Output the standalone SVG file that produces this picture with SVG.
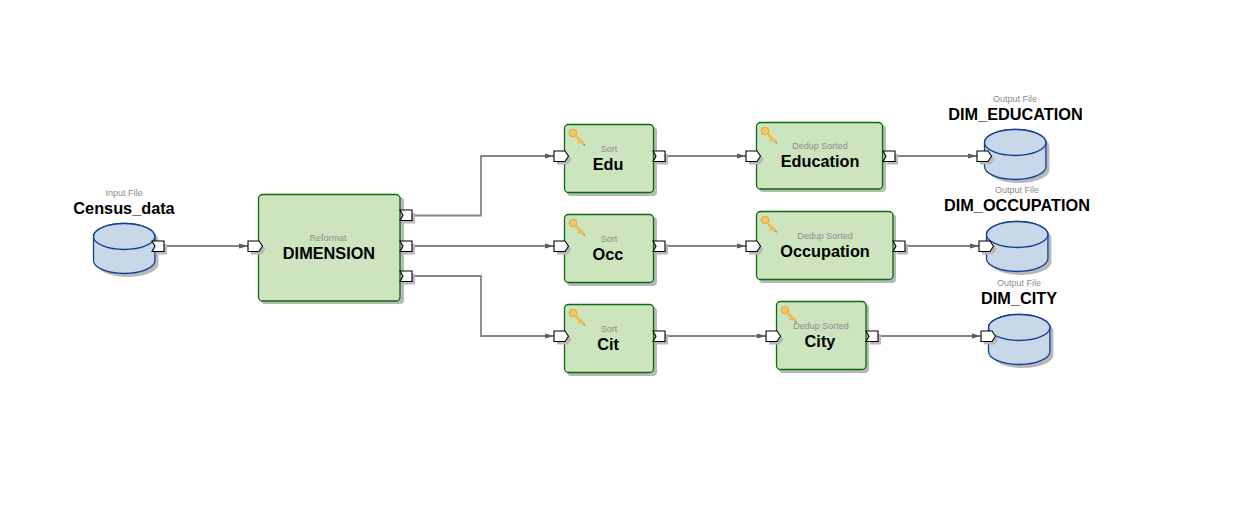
<svg xmlns="http://www.w3.org/2000/svg" width="1258" height="511" viewBox="0 0 1258 511">
<style>
text{font-family:"Liberation Sans",Arial,sans-serif;text-anchor:middle}
.t{font-size:9px;fill:#8c8c8c}
.n{font-size:16.300px;font-weight:bold;fill:#000}
.b{fill:#cce5bf;stroke:#0b6a0b;stroke-width:1.3}
.s{fill:#b8b8b8}
.c{fill:none;stroke:#858585;stroke-width:1.8}
.p{fill:#fff;stroke:#000;stroke-width:1.1}
.d{fill:#c8d8e8;stroke:#123f96;stroke-width:1.3}
.k{fill:none;stroke:#eebc55;stroke-width:2.6;stroke-linecap:round}
</style>
<defs>
<marker id="a" markerWidth="10" markerHeight="6" refX="9" refY="3" orient="auto" markerUnits="userSpaceOnUse"><path d="M0 .5L9 3L0 5.500Z" fill="#5c5c5c"/></marker>
<g id="key"><path d="M8 9L16 16.500" fill="none" stroke="#8a7a50" stroke-width="1.200" transform="translate(.8 .8)"/><circle cx="5" cy="5" r="3.800" fill="#f3c865" stroke="#dca63e" stroke-width="1"/><path class="k" d="M7 7.500L15 15M12 12.500L10.500 14.500"/></g>
<path id="in" d="M0 0H11L14.500 5.200L11 10.500H0Z"/>
<path id="out" d="M0 0H12V10.500H0L3 5.200Z"/>
<path id="cyl" d="M0 13V37A30.700 13 0 0 0 61.400 37V13A30.700 13 0 0 0 0 13Z"/>
</defs>
<g id="connectors">
<path class="c" d="M164 246H248" marker-end="url(#a)"/>
<path class="c" d="M412 215.500H481V156H554" marker-end="url(#a)"/>
<path class="c" d="M412 246H554" marker-end="url(#a)"/>
<path class="c" d="M412 276H481V336H554" marker-end="url(#a)"/>
<path class="c" d="M665 156H746" marker-end="url(#a)"/>
<path class="c" d="M665 246H746" marker-end="url(#a)"/>
<path class="c" d="M665 336H766" marker-end="url(#a)"/>
<path class="c" d="M895 156H977" marker-end="url(#a)"/>
<path class="c" d="M905 246H979" marker-end="url(#a)"/>
<path class="c" d="M878 336H981" marker-end="url(#a)"/>
</g>
<g id="census">
<use href="#cyl" class="s" x="97" y="227"/>
<use href="#cyl" class="d" x="93.500" y="223.500"/>
<ellipse class="d" cx="124.200" cy="236.500" rx="30.700" ry="13"/>
<text class="t" x="124" y="196">Input File</text><text class="n" x="124" y="214">Census_data</text>
<use href="#out" class="s" x="155" y="244"/><use href="#out" class="p" x="152" y="241"/>
</g>
<g id="dimension">
<rect class="s" x="261" y="197" width="143" height="107" rx="4"/>
<rect class="b" x="258.500" y="194.500" width="141.500" height="106.500" rx="4"/>
<text class="t" x="328" y="241">Reformat</text><text class="n" x="329" y="259">DIMENSION</text>
<use href="#in" class="s" x="251" y="244"/><use href="#in" class="p" x="248" y="241"/>
<use href="#out" class="s" x="403" y="213"/><use href="#out" class="p" x="400" y="210"/>
<use href="#out" class="s" x="403" y="244"/><use href="#out" class="p" x="400" y="241"/>
<use href="#out" class="s" x="403" y="274"/><use href="#out" class="p" x="400" y="271"/>
</g>
<g id="sort-edu">
<rect class="s" x="567" y="127" width="90" height="69" rx="4"/>
<rect class="b" x="564.500" y="124.500" width="89" height="68" rx="4"/>
<use href="#key" x="568" y="128"/>
<text class="t" x="609" y="152">Sort</text><text class="n" x="608" y="170">Edu</text>
<use href="#in" class="s" x="557" y="154"/><use href="#in" class="p" x="554" y="151"/>
<use href="#out" class="s" x="656" y="154"/><use href="#out" class="p" x="653" y="151"/>
</g>
<g id="sort-occ">
<rect class="s" x="567" y="217" width="90" height="69" rx="4"/>
<rect class="b" x="564.500" y="214.500" width="89" height="68" rx="4"/>
<use href="#key" x="568" y="218"/>
<text class="t" x="609" y="242">Sort</text><text class="n" x="608" y="260">Occ</text>
<use href="#in" class="s" x="557" y="244"/><use href="#in" class="p" x="554" y="241"/>
<use href="#out" class="s" x="656" y="244"/><use href="#out" class="p" x="653" y="241"/>
</g>
<g id="sort-cit">
<rect class="s" x="567" y="307" width="90" height="69" rx="4"/>
<rect class="b" x="564.500" y="304.500" width="89" height="68" rx="4"/>
<use href="#key" x="568" y="308"/>
<text class="t" x="609" y="332">Sort</text><text class="n" x="608" y="350">Cit</text>
<use href="#in" class="s" x="557" y="334"/><use href="#in" class="p" x="554" y="331"/>
<use href="#out" class="s" x="656" y="334"/><use href="#out" class="p" x="653" y="331"/>
</g>
<g id="dedup-education">
<rect class="s" x="759" y="125" width="127" height="67" rx="4"/>
<rect class="b" x="756.500" y="122.500" width="126" height="66.500" rx="4"/>
<use href="#key" x="760" y="126"/>
<text class="t" x="820" y="149">Dedup Sorted</text><text class="n" x="820" y="167">Education</text>
<use href="#in" class="s" x="749" y="154"/><use href="#in" class="p" x="746" y="151"/>
<use href="#out" class="s" x="886" y="154"/><use href="#out" class="p" x="883" y="151"/>
</g>
<g id="dedup-occupation">
<rect class="s" x="759" y="214" width="137" height="69" rx="4"/>
<rect class="b" x="756.500" y="211.500" width="136.500" height="68" rx="4"/>
<use href="#key" x="760" y="215"/>
<text class="t" x="825" y="239">Dedup Sorted</text><text class="n" x="825" y="257">Occupation</text>
<use href="#in" class="s" x="749" y="244"/><use href="#in" class="p" x="746" y="241"/>
<use href="#out" class="s" x="896" y="244"/><use href="#out" class="p" x="893" y="241"/>
</g>
<g id="dedup-city">
<rect class="s" x="779" y="304" width="90" height="69" rx="4"/>
<rect class="b" x="776.500" y="301.500" width="89.500" height="68" rx="4"/>
<use href="#key" x="780" y="305"/>
<text class="t" x="821" y="329">Dedup Sorted</text><text class="n" x="820" y="347">City</text>
<use href="#in" class="s" x="769" y="334"/><use href="#in" class="p" x="766" y="331"/>
<use href="#out" class="s" x="869" y="334"/><use href="#out" class="p" x="866" y="331"/>
</g>
<g id="dim-education">
<use href="#cyl" class="s" x="988" y="133"/>
<use href="#cyl" class="d" x="984.500" y="129.500"/>
<ellipse class="d" cx="1015.200" cy="142.500" rx="30.700" ry="13"/>
<text class="t" x="1015" y="102">Output File</text><text class="n" x="1015.500" y="120">DIM_EDUCATION</text>
<use href="#in" class="s" x="980" y="154"/><use href="#in" class="p" x="977" y="151"/>
</g>
<g id="dim-occupation">
<use href="#cyl" class="s" x="990" y="225"/>
<use href="#cyl" class="d" x="986.500" y="221.500"/>
<ellipse class="d" cx="1017.200" cy="234.500" rx="30.700" ry="13"/>
<text class="t" x="1017" y="193">Output File</text><text class="n" x="1017" y="211">DIM_OCCUPATION</text>
<use href="#in" class="s" x="982" y="244"/><use href="#in" class="p" x="979" y="241"/>
</g>
<g id="dim-city">
<use href="#cyl" class="s" x="992" y="318"/>
<use href="#cyl" class="d" x="988.500" y="314.500"/>
<ellipse class="d" cx="1019.200" cy="327.500" rx="30.700" ry="13"/>
<text class="t" x="1019" y="286">Output File</text><text class="n" x="1019" y="304">DIM_CITY</text>
<use href="#in" class="s" x="984" y="334"/><use href="#in" class="p" x="981" y="331"/>
</g>
</svg>
